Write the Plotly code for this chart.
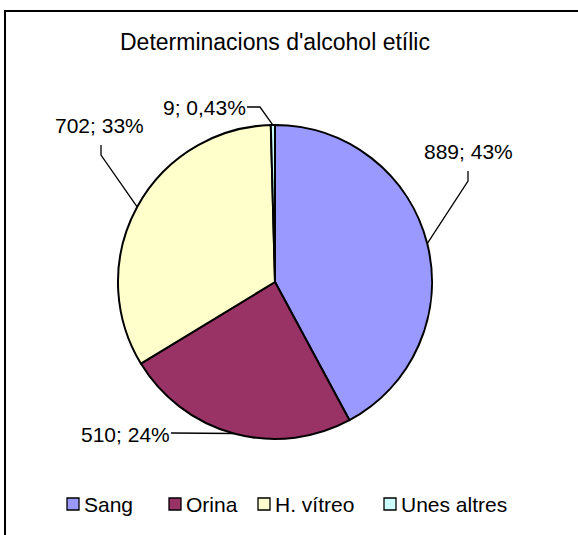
import math
import plotly.graph_objects as go

# ---- data ----
categories = ["Sang", "Orina", "H. vítreo", "Unes altres"]
values = [889, 510, 702, 9]
pct_labels = ["43%", "24%", "33%", "0,43%"]
colors = ["#9999FF", "#993366", "#FFFFCC", "#CCFFFF"]
title_text = "Determinacions d'alcohol etílic"

# ---- layout constants (pixels) ----
W, H = 578, 535
cx, cy, R = 275, 282, 157
FONT = "Liberation Sans, Arial, sans-serif"

# label text centre and leader-line waypoints (layout only)
label_pos = [(468, 151), (125, 434), (100, 125), (204, 108)]
leader_pts = [
    [(468, 171), (468, 181)],
    [(171, 433)],
    [(101, 145), (101, 155)],
    [(247, 107), (260, 107)],
]
# legend layout: left edge of each swatch, swatch size, row centre
legend_x = [67, 169, 258, 384]
legend_y = 504
SW = 12


def px(x):
    return x / W


def py(y):
    return 1 - y / H


fig = go.Figure(
    go.Pie(
        labels=categories,
        values=values,
        sort=False,
        direction="clockwise",
        rotation=0,
        marker=dict(colors=colors, line=dict(color="black", width=2)),
        textinfo="none",
        hoverinfo="label+value+percent",
        domain=dict(x=[px(cx - R), px(cx + R)], y=[py(cy + R), py(cy - R)]),
        showlegend=False,
    )
)

total = sum(values)
annotations = []
shapes = []
cum = 0
for i, v in enumerate(values):
    mid = (cum + v / 2) / total
    cum += v
    ang = 2 * math.pi * mid
    ex = cx + R * math.sin(ang)
    ey = cy - R * math.cos(ang)
    pts = leader_pts[i] + [(ex, ey)]
    path = "M " + " L ".join(f"{px(a):.5f},{py(b):.5f}" for a, b in pts)
    shapes.append(dict(type="path", xref="paper", yref="paper", path=path,
                       line=dict(color="black", width=1.3)))
    lx, ly = label_pos[i]
    annotations.append(dict(
        x=px(lx), y=py(ly), xref="paper", yref="paper",
        text=f"{v}; {pct_labels[i]}", showarrow=False,
        xanchor="center", yanchor="middle",
        font=dict(family=FONT, size=21, color="black"),
    ))

# legend (swatches + names)
for i, name in enumerate(categories):
    x0 = legend_x[i]
    shapes.append(dict(type="rect", xref="paper", yref="paper",
                       x0=px(x0), x1=px(x0 + SW),
                       y0=py(legend_y + SW / 2), y1=py(legend_y - SW / 2),
                       fillcolor=colors[i], line=dict(color="black", width=1.3)))
    annotations.append(dict(
        x=px(x0 + SW + 3), y=py(legend_y), xref="paper", yref="paper",
        text=name, showarrow=False, xanchor="left", yanchor="middle",
        font=dict(family=FONT, size=21, color="black"),
    ))

# title
annotations.append(dict(
    x=px(275), y=py(42), xref="paper", yref="paper", text=title_text,
    showarrow=False, xanchor="center", yanchor="middle",
    font=dict(family=FONT, size=23, color="black"),
))

# chart-area frame (only top and left edges visible)
shapes.append(dict(type="rect", xref="paper", yref="paper",
                   x0=px(5), x1=1.2, y0=-0.2, y1=py(11),
                   line=dict(color="black", width=2), layer="below"))

fig.update_layout(
    width=W, height=H,
    margin=dict(l=0, r=0, t=0, b=0),
    paper_bgcolor="white", plot_bgcolor="white",
    showlegend=False,
    annotations=annotations,
    shapes=shapes,
)

fig.write_html(
    "out.html",
    config={"displayModeBar": False},
    post_script="document.body.style.margin='0';document.body.style.overflow='hidden';",
)
